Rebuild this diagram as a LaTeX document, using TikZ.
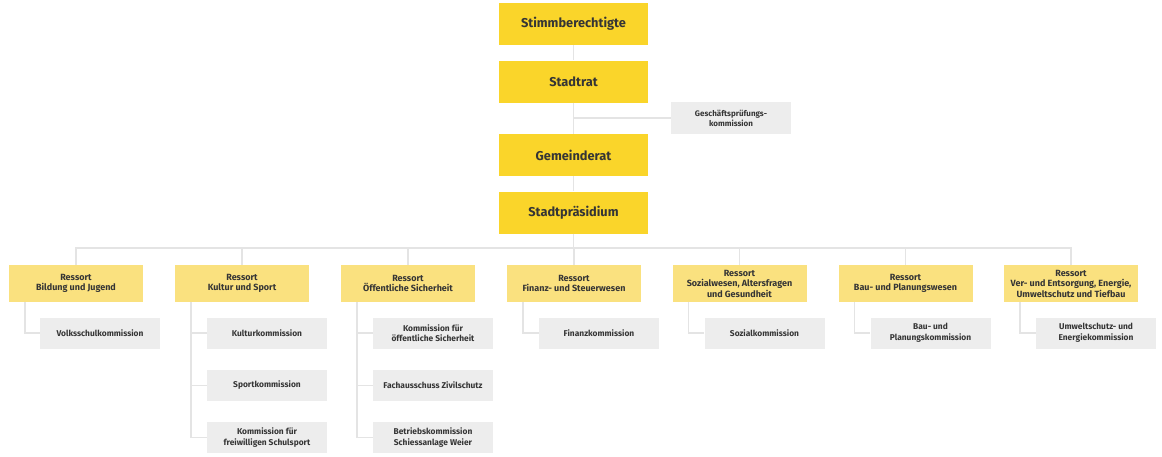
\documentclass[tikz,border=0pt]{standalone}
\usepackage{fontspec}
\setmainfont{Fira Sans}
\usepackage{tikz}
\usetikzlibrary{positioning}

\definecolor{gold}{HTML}{FAD52A}
\definecolor{pale}{HTML}{FAE17F}
\definecolor{greybox}{HTML}{EDEDED}
\definecolor{greyline}{HTML}{E4E4E4}
\definecolor{ink}{HTML}{353535}

\begin{document}
\begin{tikzpicture}[x=1pt,y=-1pt,
  top/.style={fill=gold,text=ink,minimum width=149pt,minimum height=42pt,
    inner sep=0pt,font=\bfseries\fontsize{12.8}{15}\selectfont},
  ressort/.style={fill=pale,text=ink,minimum width=134pt,minimum height=37pt,
    inner sep=0pt,align=center,font=\bfseries\fontsize{9}{10.5}\selectfont},
  komm/.style={fill=greybox,text=ink,minimum width=120pt,minimum height=31pt,
    inner sep=0pt,align=center,font=\bfseries\fontsize{8.4}{10.6}\selectfont},
  link/.style={draw=greyline,line width=1.5pt}]
\useasboundingbox (0,0) rectangle (1162,456);
%\draw[red] (0,0) rectangle (1162,456);
\node[top] (stimm) at (573.5,24) {Stimmberechtigte};
\node[top] (stadtrat) at (573.5,81.5) {Stadtrat};
\node[top] (gemeinde) at (573.5,155) {Gemeinderat};
\node[top] (praes) at (573.5,212.5) {Stadtpräsidium};
\node[komm,minimum width=120pt,minimum height=32pt,font=\bfseries\fontsize{8}{10}\selectfont] (gpk) at (731,118) {Geschäftsprüfungs-\\kommission};
\coordinate (bus) at (573.5,248);
% Ressorts
\node[ressort] (r1) at (76,283.5) {Ressort\\Bildung und Jugend};
\node[ressort] (r2) at (242,283.5) {Ressort\\Kultur und Sport};
\node[ressort] (r3) at (408,283.5) {Ressort\\Öffentliche Sicherheit};
\node[ressort] (r4) at (574,283.5) {Ressort\\Finanz- und Steuerwesen};
\node[ressort] (r5) at (739.5,283.5) {Ressort\\Sozialwesen, Altersfragen\\und Gesundheit};
\node[ressort] (r6) at (905.5,283.5) {Ressort\\Bau- und Planungswesen};
\node[ressort] (r7) at (1071,283.5) {Ressort\\Ver- und Entsorgung, Energie,\\Umweltschutz und Tiefbau};
% Kommissionen
\node[komm] (k11) at (100,333) {Volksschulkommission};
\node[komm] (k21) at (267,333) {Kulturkommission};
\node[komm] (k22) at (267,385.5) {Sportkommission};
\node[komm] (k23) at (267,437.5) {Kommission für\\freiwilligen Schulsport};
\node[komm] (k31) at (433,333) {Kommission für\\öffentliche Sicherheit};
\node[komm] (k32) at (433,385.5) {Fachausschuss Zivilschutz};
\node[komm] (k33) at (433,437.5) {Betriebskommission\\Schiessanlage Weier};
\node[komm] (k41) at (599,333) {Finanzkommission};
\node[komm] (k51) at (764.5,333) {Sozialkommission};
\node[komm] (k61) at (930.5,333) {Bau- und\\Planungskommission};
\node[komm] (k71) at (1096,333) {Umweltschutz- und\\Energiekommission};
% Verbindungen
\draw[link] (stimm) -- (stadtrat);
\draw[link] (stadtrat) -- (gemeinde);
\draw[link] (gemeinde) -- (praes);
\draw[link] (gpk.west) -- (gpk.west -| stadtrat.south);
\draw[link] (praes) -- (bus);
\foreach \r in {r1,r2,r3,r4,r5,r6,r7}
  \draw[link] (bus) -| (\r.north);
\draw[link] ([xshift=16pt]r1.south west) |- (k11.west);
\draw[link] ([xshift=16pt]r2.south west) |- (k21.west);
\draw[link] ([xshift=16pt]r2.south west) |- (k22.west);
\draw[link] ([xshift=16pt]r2.south west) |- (k23.west);
\draw[link] ([xshift=16pt]r3.south west) |- (k31.west);
\draw[link] ([xshift=16pt]r3.south west) |- (k32.west);
\draw[link] ([xshift=16pt]r3.south west) |- (k33.west);
\draw[link] ([xshift=16pt]r4.south west) |- (k41.west);
\draw[link] ([xshift=16pt]r5.south west) |- (k51.west);
\draw[link] ([xshift=16pt]r6.south west) |- (k61.west);
\draw[link] ([xshift=16pt]r7.south west) |- (k71.west);
\end{tikzpicture}
\end{document}
